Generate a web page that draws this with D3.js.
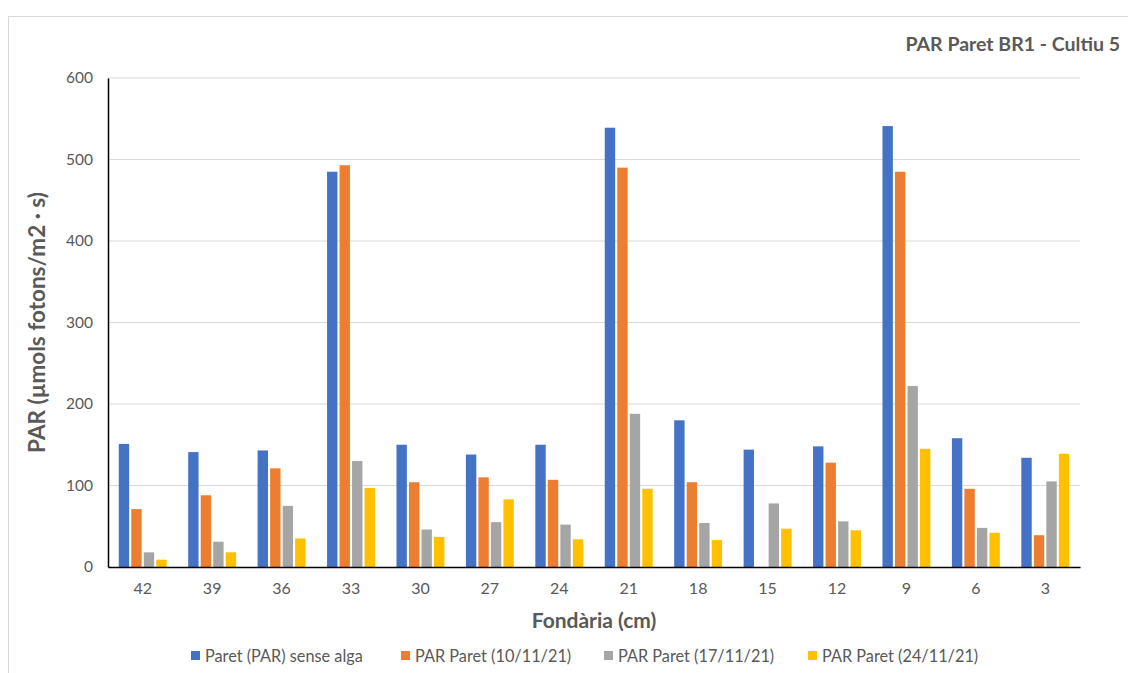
<!DOCTYPE html>
<html><head><meta charset="utf-8">
<script src="https://cdn.jsdelivr.net/npm/d3@7"></script>
<style>body{margin:0;background:#fff}svg{display:block}text{font-family:Lato,"Open Sans",sans-serif}</style>
</head><body>
<svg id="c" width="1128" height="673"></svg>
<script>
const categories = ["42","39","36","33","30","27","24","21","18","15","12","9","6","3"];
const seriesNames = ["Paret (PAR) sense alga","PAR Paret (10/11/21)","PAR Paret (17/11/21)","PAR Paret (24/11/21)"];
const sensealga = [151,141,143,485,150,138,150,539,180,144,148,541,158,134];
const par1011 = [71,88,121,493,104,110,107,490,104,0,128,485,96,39];
const par1711 = [18,31,75,130,46,55,52,188,54,78,56,222,48,105];
const par2411 = [9,18,35,97,37,83,34,96,33,47,45,145,42,139];
const yTicks = [0,100,200,300,400,500,600];
const colors = ["#4472C4","#ED7D31","#A5A5A5","#FFC000"];

const series = [sensealga, par1011, par1711, par2411];
const svg = d3.select("#c");
const m = {l:108, r:1080, t:78, b:567};

svg.append("rect").attr("x",8.5).attr("y",16.5).attr("width",1140).attr("height",680)
  .attr("fill","#fff").attr("stroke","#d9d9d9").attr("stroke-width",1);

const x0 = d3.scaleBand().domain(categories).range([m.l, m.r]).paddingInner(0.31).paddingOuter(0.155);
const x1 = d3.scaleBand().domain(d3.range(4)).range([0, x0.bandwidth()]).paddingInner(0.17);
const y = d3.scaleLinear().domain([0,600]).range([m.b, m.t]);

// gridlines
svg.append("g").selectAll("line").data(yTicks.filter(d=>d>0)).join("line")
  .attr("x1",m.l).attr("x2",m.r).attr("y1",d=>y(d)).attr("y2",d=>y(d))
  .attr("stroke","#d9d9d9").attr("stroke-width",1);

// bars
const g = svg.append("g");
series.forEach((s,i)=>{
  g.append("g").selectAll("rect").data(s).join("rect")
    .attr("x",(d,j)=>x0(categories[j])+x1(i))
    .attr("width",x1.bandwidth())
    .attr("y",d=>y(d))
    .attr("height",d=>y(0)-y(d))
    .attr("fill",colors[i]);
});

// axes
const yAxis = d3.axisLeft(y).tickValues(yTicks).tickSize(0).tickPadding(15);
const ya = svg.append("g").attr("transform",`translate(${m.l},0)`).call(yAxis);
ya.select(".domain").attr("stroke","#000").attr("stroke-width",1.5);
ya.selectAll("text").attr("fill","#595959").style("font-size","15.5px").style("font-family","Lato");

const xAxis = d3.axisBottom(x0).tickSize(0).tickPadding(16).tickSizeOuter(0);
const xa = svg.append("g").attr("transform",`translate(0,${m.b})`).call(xAxis);
xa.select(".domain").attr("stroke","#000").attr("stroke-width",1.5);
xa.selectAll("text").attr("fill","#595959").style("font-size","16px").style("font-family","Lato");

// titles
svg.append("text").attr("x",1120).attr("y",51).attr("text-anchor","end")
  .attr("fill","#595959").style("font-size","19.5px").style("font-weight","bold")
  .text("PAR Paret BR1 - Cultiu 5");
svg.append("text").attr("transform",`translate(45,${(m.t+m.b)/2}) rotate(-90)`)
  .attr("text-anchor","middle").attr("fill","#595959").style("font-size","22.5px").style("font-weight","bold")
  .text("PAR (µmols fotons/m2 · s)");
svg.append("text").attr("x",(m.l+m.r)/2).attr("y",628).attr("text-anchor","middle")
  .attr("fill","#595959").style("font-size","21px").style("font-weight","bold")
  .text("Fondària (cm)");

// legend
const legX = [191,401,604,808];
const leg = svg.append("g");
seriesNames.forEach((n,i)=>{
  leg.append("rect").attr("x",legX[i]).attr("y",651).attr("width",9).attr("height",9).attr("fill",colors[i]);
  leg.append("text").attr("x",legX[i]+14).attr("y",662).attr("fill","#595959")
    .style("font-size","16.3px").text(n);
});
</script>
</body></html>
